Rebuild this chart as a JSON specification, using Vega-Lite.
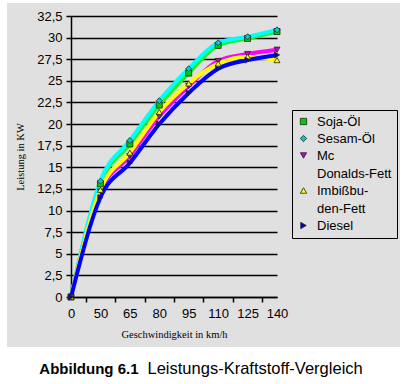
{
  "$schema": "https://vega.github.io/schema/vega-lite/v6.json",
  "width": 393,
  "height": 344,
  "autosize": {"type": "none"},
  "padding": {"left": 7, "top": 3, "right": 14, "bottom": 37},
  "background": "#ffffff",
  "config": {
    "view": {"fill": "#e0e0e0", "stroke": null},
    "font": "Liberation Sans"
  },
  "data": {
    "values": [
      {"Kraftstoff": "Soja-Öl", "Geschwindigkeit": "0", "Leistung": 0},
      {"Kraftstoff": "Soja-Öl", "Geschwindigkeit": "50", "Leistung": 13.1},
      {"Kraftstoff": "Soja-Öl", "Geschwindigkeit": "65", "Leistung": 17.7},
      {"Kraftstoff": "Soja-Öl", "Geschwindigkeit": "80", "Leistung": 22.2},
      {"Kraftstoff": "Soja-Öl", "Geschwindigkeit": "95", "Leistung": 25.9},
      {"Kraftstoff": "Soja-Öl", "Geschwindigkeit": "110", "Leistung": 29.1},
      {"Kraftstoff": "Soja-Öl", "Geschwindigkeit": "125", "Leistung": 29.9},
      {"Kraftstoff": "Soja-Öl", "Geschwindigkeit": "140", "Leistung": 30.7},
      {"Kraftstoff": "Sesam-Öl", "Geschwindigkeit": "0", "Leistung": 0},
      {"Kraftstoff": "Sesam-Öl", "Geschwindigkeit": "50", "Leistung": 13.4},
      {"Kraftstoff": "Sesam-Öl", "Geschwindigkeit": "65", "Leistung": 18.1},
      {"Kraftstoff": "Sesam-Öl", "Geschwindigkeit": "80", "Leistung": 22.7},
      {"Kraftstoff": "Sesam-Öl", "Geschwindigkeit": "95", "Leistung": 26.4},
      {"Kraftstoff": "Sesam-Öl", "Geschwindigkeit": "110", "Leistung": 29.4},
      {"Kraftstoff": "Sesam-Öl", "Geschwindigkeit": "125", "Leistung": 30.1},
      {"Kraftstoff": "Sesam-Öl", "Geschwindigkeit": "140", "Leistung": 30.9},
      {"Kraftstoff": "Mc Donalds-Fett", "Geschwindigkeit": "0", "Leistung": 0},
      {"Kraftstoff": "Mc Donalds-Fett", "Geschwindigkeit": "50", "Leistung": 12.2},
      {"Kraftstoff": "Mc Donalds-Fett", "Geschwindigkeit": "65", "Leistung": 16.3},
      {"Kraftstoff": "Mc Donalds-Fett", "Geschwindigkeit": "80", "Leistung": 20.9},
      {"Kraftstoff": "Mc Donalds-Fett", "Geschwindigkeit": "95", "Leistung": 24.4},
      {"Kraftstoff": "Mc Donalds-Fett", "Geschwindigkeit": "110", "Leistung": 27.3},
      {"Kraftstoff": "Mc Donalds-Fett", "Geschwindigkeit": "125", "Leistung": 28.1},
      {"Kraftstoff": "Mc Donalds-Fett", "Geschwindigkeit": "140", "Leistung": 28.6},
      {"Kraftstoff": "Imbißbuden-Fett", "Geschwindigkeit": "0", "Leistung": 0},
      {"Kraftstoff": "Imbißbuden-Fett", "Geschwindigkeit": "50", "Leistung": 12.4},
      {"Kraftstoff": "Imbißbuden-Fett", "Geschwindigkeit": "65", "Leistung": 16.7},
      {"Kraftstoff": "Imbißbuden-Fett", "Geschwindigkeit": "80", "Leistung": 21.4},
      {"Kraftstoff": "Imbißbuden-Fett", "Geschwindigkeit": "95", "Leistung": 24.7},
      {"Kraftstoff": "Imbißbuden-Fett", "Geschwindigkeit": "110", "Leistung": 27.0},
      {"Kraftstoff": "Imbißbuden-Fett", "Geschwindigkeit": "125", "Leistung": 27.8},
      {"Kraftstoff": "Imbißbuden-Fett", "Geschwindigkeit": "140", "Leistung": 27.4},
      {"Kraftstoff": "Diesel", "Geschwindigkeit": "0", "Leistung": 0},
      {"Kraftstoff": "Diesel", "Geschwindigkeit": "50", "Leistung": 11.5},
      {"Kraftstoff": "Diesel", "Geschwindigkeit": "65", "Leistung": 15.5},
      {"Kraftstoff": "Diesel", "Geschwindigkeit": "80", "Leistung": 20.0},
      {"Kraftstoff": "Diesel", "Geschwindigkeit": "95", "Leistung": 23.6},
      {"Kraftstoff": "Diesel", "Geschwindigkeit": "110", "Leistung": 26.4},
      {"Kraftstoff": "Diesel", "Geschwindigkeit": "125", "Leistung": 27.4},
      {"Kraftstoff": "Diesel", "Geschwindigkeit": "140", "Leistung": 28.0}
    ]
  },
  "layer": [
    {
      "mark": {"type": "line", "interpolate": "monotone", "strokeWidth": 4},
      "encoding": {
        "x": {
          "field": "Geschwindigkeit",
          "type": "ordinal",
          "scale": {"type": "point", "domain": ["0", "50", "65", "80", "95", "110", "125", "140"], "range": [64, 270], "padding": 0},
          "axis": {
            "orient": "bottom",
            "offset": -50,
            "labelAngle": 0,
            "labelFont": "Liberation Sans",
            "labelFontSize": 13,
            "labelColor": "#000",
            "labelPadding": 10,
            "labelOverlap": false,
            "ticks": false,
            "domain": true,
            "domainColor": "#000",
            "domainWidth": 1.5,
            "grid": false,
            "title": "Geschwindigkeit in km/h",
            "titleFont": "Liberation Serif",
            "titleFontSize": 10.5,
            "titleFontWeight": "normal",
            "titleColor": "#000",
            "titlePadding": 9
          }
        },
        "y": {
          "field": "Leistung",
          "type": "quantitative",
          "scale": {"domain": [0, 32.5], "range": [294, 13], "nice": false},
          "axis": {
            "orient": "left",
            "offset": -64,
            "values": [0, 2.5, 5, 7.5, 10, 12.5, 15, 17.5, 20, 22.5, 25, 27.5, 30, 32.5],
            "format": ".1~f",
            "labelExpr": "replace(datum.label, '.', ',')",
            "labelFont": "Liberation Sans",
            "labelFontSize": 13,
            "labelColor": "#000",
            "labelPadding": 4,
            "labelOverlap": false,
            "labelFlush": false,
            "grid": true,
            "gridColor": "#000",
            "gridWidth": 1.5,
            "gridOpacity": 1,
            "domainColor": "#000",
            "domainWidth": 1.5,
            "tickColor": "#000",
            "tickSize": 5,
            "tickWidth": 1.5,
            "title": "Leistung in KW",
            "titleFont": "Liberation Serif",
            "titleFontSize": 10.5,
            "titleFontWeight": "normal",
            "titleColor": "#000",
            "titleAngle": 270,
            "titleBaseline": "middle",
            "titleX": -51
          }
        },
        "stroke": {
          "field": "Kraftstoff",
          "type": "nominal",
          "sort": ["Soja-Öl", "Sesam-Öl", "Mc Donalds-Fett", "Imbißbuden-Fett", "Diesel"],
          "scale": {
            "range": ["#22ee22", "#00ffff", "#ff00ff", "#ffff00", "#0000ff"]
          },
          "legend": null
        }
      }
    },
    {
      "mark": {"type": "point", "filled": true, "size": 36, "stroke": "#222222", "strokeWidth": 0.8, "opacity": 1},
      "encoding": {
        "x": {
          "field": "Geschwindigkeit",
          "type": "ordinal",
          "scale": {"type": "point", "domain": ["0", "50", "65", "80", "95", "110", "125", "140"], "range": [64, 270], "padding": 0},
          "axis": {
            "orient": "bottom",
            "offset": -50,
            "values": ["0", "50", "65", "80", "95", "110", "125"],
            "labels": false,
            "domain": false,
            "grid": false,
            "ticks": true,
            "tickOffset": 14.71,
            "tickSize": 5,
            "tickColor": "#000",
            "tickWidth": 1.5,
            "title": "Leistungs-Kraftstoff-Vergleich",
            "titleX": 140,
            "titleY": 71,
            "titleAlign": "left",
            "titleBaseline": "middle",
            "titleFont": "Liberation Sans",
            "titleFontSize": 16.5,
            "titleFontWeight": "normal",
            "titleColor": "#000"
          }
        },
        "y": {
          "field": "Leistung",
          "type": "quantitative",
          "scale": {"domain": [0, 32.5], "range": [294, 13], "nice": false},
          "axis": {
            "orient": "left",
            "offset": 0,
            "labels": false,
            "ticks": false,
            "domain": false,
            "grid": false,
            "title": "Abbildung 6.1",
            "titleAngle": 0,
            "titleX": 131,
            "titleY": 365,
            "titleAlign": "right",
            "titleBaseline": "middle",
            "titleFont": "Liberation Sans",
            "titleFontSize": 15,
            "titleFontWeight": "bold",
            "titleColor": "#000"
          }
        },
        "fill": {
          "field": "Kraftstoff",
          "type": "nominal",
          "scale": {
            "domain": ["Soja-Öl", "Sesam-Öl", "Mc Donalds-Fett", "Imbißbuden-Fett", "Diesel"],
            "range": ["#00cc00", "#00cccc", "#cc00cc", "#ffff00", "#0000cc"]
          },
          "legend": {
            "title": null,
            "orient": "none",
            "legendX": 285,
            "legendY": 107,
            "strokeColor": "#000",
            "padding": 5,
            "labelFont": "Liberation Sans",
            "labelFontSize": 13,
            "labelColor": "#000",
            "labelOffset": 7,
            "labelExpr": "datum.value == 'Mc Donalds-Fett' ? ['Mc', 'Donalds-Fett'] : datum.value == 'Imbißbuden-Fett' ? ['Imbißbu-', 'den-Fett'] : datum.label",
            "symbolSize": 40,
            "symbolStrokeColor": "#222222",
            "symbolStrokeWidth": 0.8,
            "rowPadding": 3,
            "encoding": {
              "labels": {"lineHeight": {"value": 18}}
            }
          }
        },
        "shape": {
          "field": "Kraftstoff",
          "type": "nominal",
          "scale": {
            "domain": ["Soja-Öl", "Sesam-Öl", "Mc Donalds-Fett", "Imbißbuden-Fett", "Diesel"],
            "range": ["square", "diamond", "triangle-down", "triangle-up", "triangle-right"]
          }
        }
      }
    }
  ],
  "resolve": {
    "scale": {"x": "independent", "y": "independent"},
    "axis": {"x": "independent", "y": "independent"}
  }
}
